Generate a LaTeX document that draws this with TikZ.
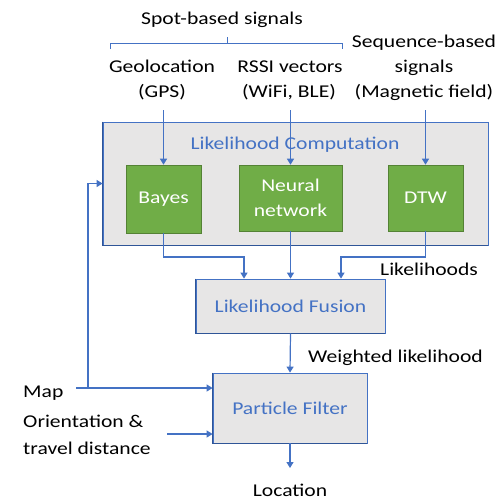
\documentclass[tikz,border=0pt]{standalone}
\usepackage{fontspec}
\setmainfont[FakeStretch=1.2]{Carlito}
\usetikzlibrary{arrows.meta}
\definecolor{lblue}{HTML}{4472C4}
\definecolor{dblue}{HTML}{2F5597}
\definecolor{lgray}{HTML}{E7E6E6}
\definecolor{grn}{HTML}{70AD47}
\definecolor{dgrn}{HTML}{548235}
\begin{document}
\begin{tikzpicture}[x=1pt,y=-1pt,
  font=\fontsize{18}{25}\selectfont,
  arr/.style={lblue, line width=1.2pt, -{Triangle[width=7pt,length=6pt]}},
  ln/.style={lblue, line width=0.9pt},
  lbl/.style={inner sep=0pt, anchor=base},
  lblw/.style={inner sep=0pt, anchor=base west},
  gbox/.style={draw=dgrn, fill=grn, text=white, line width=0.6pt, align=center, inner sep=0pt},
  bbox/.style={draw=lblue, fill=lgray, text=lblue, line width=0.8pt, inner sep=0pt},
  shadowedge/.style={dblue, line width=1.6pt}
  ]
\useasboundingbox (0,0) rectangle (500,499);

% top labels
\node[lbl] (spot) at (222,24) {Spot-based signals};
\draw[ln] (110,49) -- (110,43) -- (342,43) -- (342,49);
\draw[ln] (227,43) -- (227,37);
\node[lbl] (geoA) at (162,72) {Geolocation};
\node[lbl] (geoB) at (162,97) {(GPS)};
\node[lbl] (rssiA) at (290,72) {RSSI vectors};
\node[lbl] (rssiB) at (289,97) {(WiFi, BLE)};
\node[lbl] (seqA) at (424,47) {Sequence-based};
\node[lbl] (seqB) at (424,72) {signals};
\node[lbl] (seqC) at (424,97) {(Magnetic field)};

% likelihood computation
\node[bbox, minimum width=385pt, minimum height=123pt] (lc) at (295.5,183.5) {};
\draw[shadowedge] (lc.north west) -- (lc.south west) -- (lc.south east);
\node[lbl, text=lblue] (lct) at (295,149) {Likelihood Computation};
\node[gbox, minimum width=75pt, minimum height=68pt] (bayes) at (163.5,199) {Bayes};
\node[gbox, minimum width=103pt, minimum height=66pt] (nn) at (290.5,198) {Neural\\network};
\node[gbox, minimum width=75pt, minimum height=66pt] (dtw) at (425.5,198) {DTW};

\coordinate (gin) at (163.5,110);
\coordinate (rin) at (290.5,110);
\coordinate (sin) at (425.5,110);
\draw[arr] (gin) -- (bayes.north);
\draw[arr] (rin) -- (nn.north);
\draw[arr] (sin) -- (dtw.north);

% fusion
\node[bbox, minimum width=189pt, minimum height=54pt] (fus) at (290.5,306) {Likelihood Fusion};
\draw[shadowedge] (fus.north west) -- (fus.south west) -- (fus.south east);
\coordinate (fl) at (244,257);
\coordinate (fr) at (341,257);
\draw[arr] (bayes.south) |- (fl) -- (fl |- fus.north);
\draw[arr] (nn.south) -- (nn.south |- fus.north);
\draw[arr] (dtw.south) |- (fr) -- (fr |- fus.north);
\node[lblw] (lik) at (380,275) {Likelihoods};

% particle filter
\node[bbox, minimum width=154pt, minimum height=70pt] (pf) at (290,408) {Particle Filter};
\draw[shadowedge] (pf.north west) -- (pf.south west) -- (pf.south east);
\draw[arr] (fus.south) -- (pf.north);
\node[lblw] (wl) at (308,362) {Weighted likelihood};

% map
\node[lblw] (map) at (23,397) {Map};
\coordinate (mapst) at (76,388);
\coordinate (mj) at (88,388);
\draw[arr] (mapst) -- (mapst -| pf.west);
\draw[arr] (mj) |- (lc.west);

% orientation
\node[lblw] (orA) at (23,427) {Orientation \&};
\node[lblw] (orB) at (23,454) {travel distance};
\coordinate (ost) at (167,434);
\draw[arr] (ost) -- (ost -| pf.west);

% location
\coordinate (loc) at (290,468);
\draw[arr] (pf.south) -- (loc);
\node[lbl] (locT) at (290,496) {Location};
\end{tikzpicture}
\end{document}
